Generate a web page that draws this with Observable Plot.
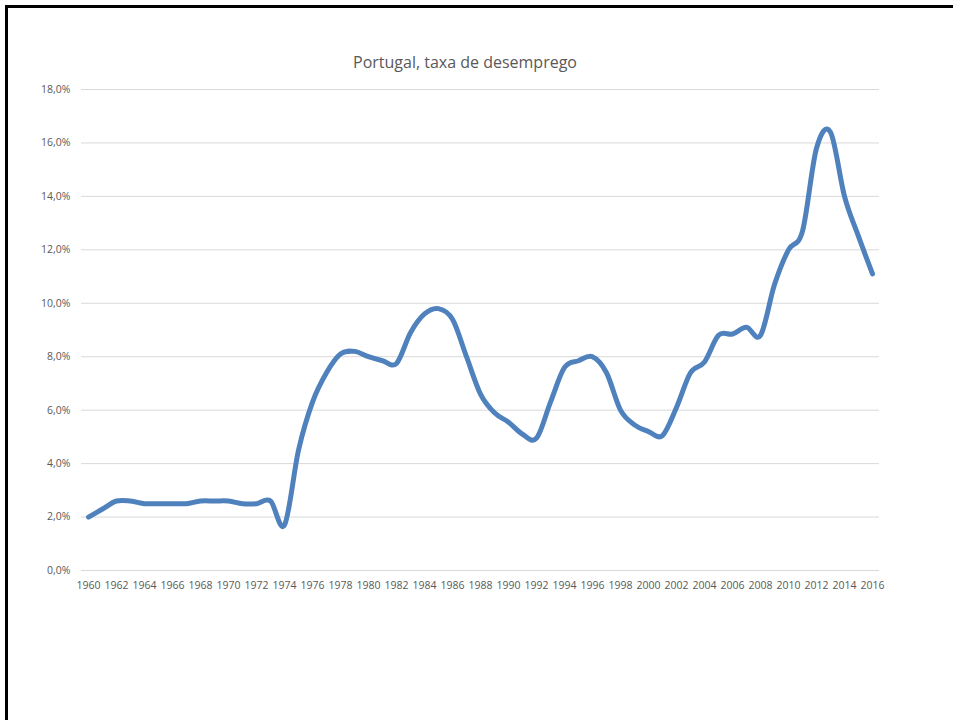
<!DOCTYPE html>
<html>
<head>
<meta charset="utf-8">
<script src="https://cdn.jsdelivr.net/npm/d3@7"></script>
<script src="https://cdn.jsdelivr.net/npm/@observablehq/plot@0.6"></script>
<style>
  html, body { margin: 0; padding: 0; background: #fff; overflow: hidden; }
  body { position: relative; width: 953px; height: 720px; font-family: "Open Sans", sans-serif; }
  #frame { position: absolute; left: 5px; top: 5px; width: 960px; height: 730px;
           border-top: 3px solid #000; border-left: 3px solid #000; box-sizing: border-box; }
  #title { position: absolute; left: 0; top: 50px; width: 930px; text-align: center;
           line-height: 24px; font-size: 16px; color: #595959; }
  #chart { position: absolute; left: 0; top: 75px; }
</style>
</head>
<body>
<div id="frame"></div>
<div id="title">Portugal, taxa de desemprego</div>
<div id="chart"></div>
<script>
const years = [1960,1961,1962,1963,1964,1965,1966,1967,1968,1969,
               1970,1971,1972,1973,1974,1975,1976,1977,1978,1979,
               1980,1981,1982,1983,1984,1985,1986,1987,1988,1989,
               1990,1991,1992,1993,1994,1995,1996,1997,1998,1999,
               2000,2001,2002,2003,2004,2005,2006,2007,2008,2009,
               2010,2011,2012,2013,2014,2015,2016];
const rates = [2.0,2.3,2.6,2.6,2.5,2.5,2.5,2.5,2.6,2.6,
               2.6,2.5,2.5,2.6,1.7,4.5,6.3,7.4,8.1,8.2,
               8.0,7.85,7.75,8.9,9.6,9.8,9.4,8.0,6.6,5.9,
               5.55,5.1,4.95,6.3,7.6,7.85,8.0,7.4,6.0,5.45,
               5.2,5.05,6.1,7.4,7.8,8.8,8.85,9.1,8.8,10.7,
               12.0,12.7,15.8,16.4,14.0,12.5,11.1];
const yTicks = [0,2,4,6,8,10,12,14,16,18];
const xTicks = [1960,1962,1964,1966,1968,1970,1972,1974,1976,1978,1980,1982,1984,1986,1988,
                1990,1992,1994,1996,1998,2000,2002,2004,2006,2008,2010,2012,2014,2016];

const data = years.map((y, i) => ({year: y, rate: rates[i]}));
const pct = d => d.toFixed(1).replace(".", ",") + "%";

const chart = Plot.plot({
  width: 953,
  height: 640,
  marginLeft: 81,
  marginRight: 74,
  marginTop: 14,
  marginBottom: 145,
  style: {fontFamily: "Open Sans, sans-serif", fontSize: "10.5px", color: "#595959", background: "transparent"},
  x: {domain: [1959.5, 2016.5], ticks: xTicks, tickFormat: d => String(d), tickSize: 0, tickPadding: 11, label: null},
  y: {domain: [0, 18], ticks: yTicks, tickFormat: pct, tickSize: 0, tickPadding: 11, label: null},
  marks: [
    Plot.ruleY(yTicks, {stroke: "#d9d9d9", strokeWidth: 1}),
    Plot.line(data, {x: "year", y: "rate", stroke: "#4f81bd", strokeWidth: 5,
                     curve: "cardinal", tension: 0, strokeLinecap: "round", strokeLinejoin: "round"})
  ]
});
document.getElementById("chart").appendChild(chart);
</script>
</body>
</html>
